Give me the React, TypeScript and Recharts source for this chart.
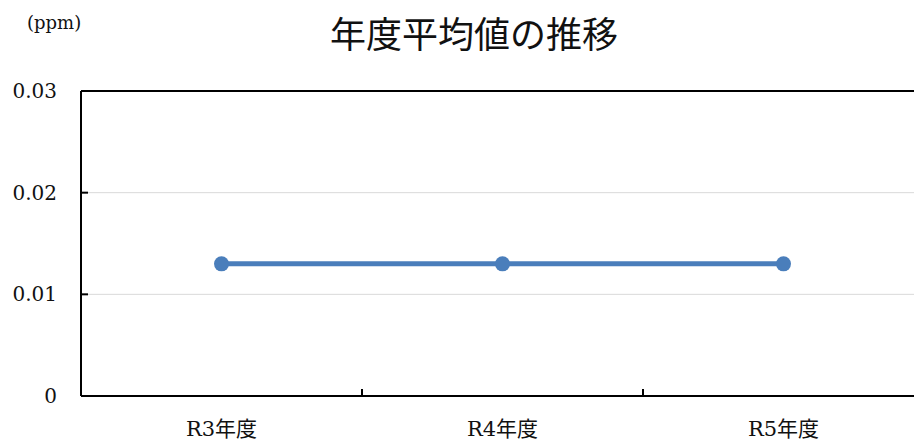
import React from "react";
import {
  LineChart,
  Line,
  XAxis,
  YAxis,
  CartesianGrid,
  ReferenceLine,
} from "recharts";

const categories = ["R3年度", "R4年度", "R5年度"];
const values = [0.013, 0.013, 0.013];
const yTicks = [0, 0.01, 0.02, 0.03];
const titleText = "年度平均値の推移";
const unitText = "(ppm)";

const data = categories.map((c, i) => ({ name: c, value: values[i] }));

const SERIF = "'DejaVu Serif', 'Noto Sans CJK JP', serif";
const BLUE = "#4a7ebb";
const X_TICK_MARGIN = 25;

const CategoryTick = (props: any) => {
  const { x, y, payload, index, visibleTicksCount } = props;
  const half = payload && typeof payload.offset === "number" ? payload.offset : 0;
  const axisY = y - X_TICK_MARGIN;
  const showBoundary = half > 0 && index < (visibleTicksCount ?? categories.length) - 1;
  return (
    <g>
      <text
        x={x}
        y={y}
        dy="0.71em"
        textAnchor="middle"
        fill="#111"
        fontSize={21}
        fontFamily={SERIF}
      >
        {payload.value}
      </text>
      {showBoundary && (
        <line
          x1={x + half}
          x2={x + half}
          y1={axisY}
          y2={axisY - 7}
          stroke="#000"
          strokeWidth={2}
        />
      )}
    </g>
  );
};

export default function App() {
  return (
    <div
      style={{
        position: "absolute",
        left: 0,
        top: 0,
        width: 914,
        height: 442,
        overflow: "hidden",
        background: "#fff",
      }}
    >
      <div
        style={{
          position: "absolute",
          left: 0,
          width: 948,
          top: 11,
          textAlign: "center",
          fontFamily: "'Noto Sans CJK JP', sans-serif",
          fontSize: 36,
          lineHeight: "42px",
          color: "#111",
        }}
      >
        {titleText}
      </div>
      <div
        style={{
          position: "absolute",
          left: 27,
          top: 11,
          fontFamily: SERIF,
          fontSize: 18,
          lineHeight: "24px",
          color: "#111",
        }}
      >
        {unitText}
      </div>
      <div style={{ position: "absolute", left: 0, top: 0 }}>
        <LineChart
          width={930}
          height={442}
          data={data}
          margin={{ top: 91, right: 6, left: 0, bottom: 0 }}
        >
          <CartesianGrid horizontal vertical={false} stroke="#d9d9d9" strokeWidth={1} />
          <XAxis
            dataKey="name"
            scale="band"
            height={46}
            axisLine={{ stroke: "#000", strokeWidth: 2 }}
            tickLine={false}
            tickSize={0}
            tickMargin={X_TICK_MARGIN}
            tick={<CategoryTick />}
            interval={0}
          />
          <YAxis
            width={81}
            domain={[0, 0.03]}
            ticks={yTicks}
            allowDataOverflow
            axisLine={{ stroke: "#000", strokeWidth: 2 }}
            tickLine={{ stroke: "#000", strokeWidth: 2 }}
            tickSize={-7}
            tickMargin={31}
            tickFormatter={(v: number) => (v === 0 ? "0" : v.toFixed(2))}
            tick={{ fill: "#111", fontSize: 20, fontFamily: SERIF }}
          />
          <ReferenceLine y={0.03} stroke="#000" strokeWidth={2} />
          <Line
            dataKey="value"
            stroke={BLUE}
            strokeWidth={5}
            dot={{ r: 7.5, fill: BLUE, stroke: BLUE, strokeWidth: 0 }}
            isAnimationActive={false}
          />
        </LineChart>
      </div>
    </div>
  );
}
